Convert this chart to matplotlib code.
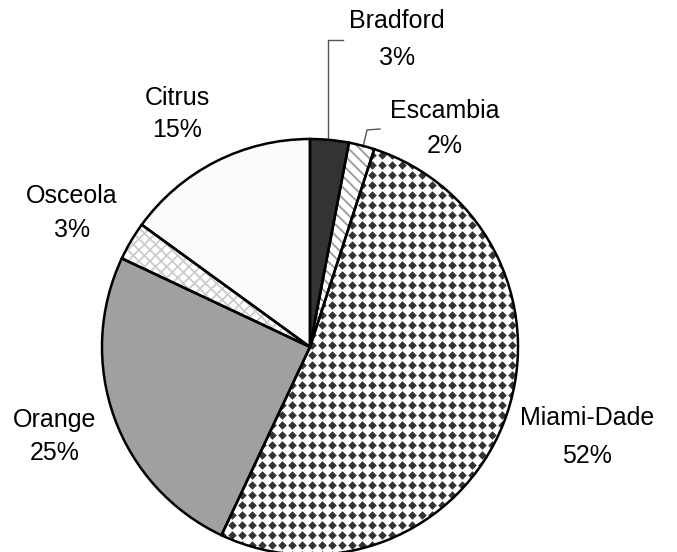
import numpy as np
import matplotlib.pyplot as plt

# dati: contee e quote percentuali (in senso orario dalle ore 12)
counties = ['Bradford', 'Escambia', 'Miami-Dade', 'Orange', 'Osceola', 'Citrus']
shares = [3, 2, 52, 25, 3, 15]
face_colors = ['#333333', 'white', 'white', '#a0a0a0', 'white', '#fbfbfb']
hatches = [None, '\\\\\\', None, None, 'xxx', None]
hatch_colors = ['#333333', '#999999', 'white', '#a0a0a0', '#cccccc', '#fbfbfb']

W, H = 677, 552
plt.rcParams['font.family'] = ['Liberation Sans', 'DejaVu Sans']
plt.rcParams['hatch.linewidth'] = 1.3

fig = plt.figure(figsize=(W / 100, H / 100), dpi=100)
ax = fig.add_axes([0, 0, 1, 1])

cx, cy, r = 310, H - 347, 208

# spicchi con tratteggio (bordo del colore del tratteggio)
wedges, _ = ax.pie(shares, startangle=90, counterclock=False,
                   center=(cx, cy), radius=r, colors=face_colors,
                   wedgeprops=dict(linewidth=0))
for w, h, hc in zip(wedges, hatches, hatch_colors):
    w.set_edgecolor(hc)
    if h:
        w.set_hatch(h)

# trama a puntini per Miami-Dade
gx, gy = np.meshgrid(np.arange(cx - r, cx + r + 10, 10),
                     np.arange(cy - r, cy + r + 10, 10))
dots = ax.scatter(gx.ravel(), gy.ravel(), marker='D', s=19, color='#333333',
                  linewidths=0, zorder=1.5)
dots.set_clip_path(wedges[2])

# contorni neri
ax.pie(shares, startangle=90, counterclock=False, center=(cx, cy), radius=r,
       colors=['none'] * len(shares),
       wedgeprops=dict(linewidth=1.8, edgecolor='black', facecolor='none', zorder=3))

ax.set_xlim(0, W)
ax.set_ylim(0, H)
ax.set_aspect('equal')
ax.axis('off')

# etichette: (x centro, linea di base nome, linea di base percentuale)
label_pos = {
    'Bradford': (397, 28, 65),
    'Escambia': (445, 118, 153),
    'Miami-Dade': (587, 425, 463),
    'Orange': (55, 427, 460),
    'Osceola': (72, 203, 237),
    'Citrus': (177, 105, 137),
}
for name, pct in zip(counties, shares):
    x, y1, y2 = label_pos[name]
    ax.text(x, H - y1, name, ha='center', va='baseline', fontsize=18)
    ax.text(x, H - y2, f'{pct}%', ha='center', va='baseline', fontsize=18)

# linee guida
ax.plot([328, 328, 343], [H - 140, H - 40, H - 40], color='#555555', lw=1)
ax.plot([363, 367, 380], [H - 147, H - 130, H - 129], color='#555555', lw=1)

fig.savefig('out.png', dpi=100)
